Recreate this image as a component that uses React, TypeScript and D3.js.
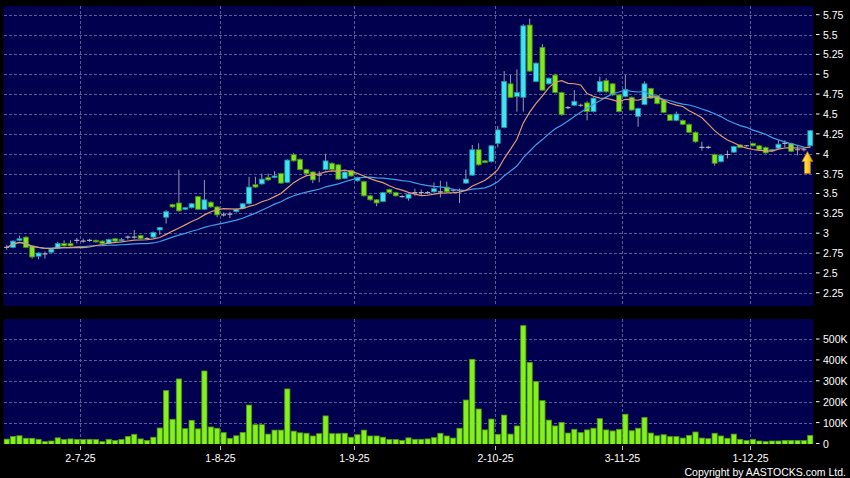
import React from "react";
import * as d3 from "d3";

// ---------- DATA ----------
const HOLIDAYS = ["2025-07-01", "2025-10-01", "2025-10-07", "2025-10-29"];
const FIRST_DAY = "2025-06-13";
const LAST_DAY = "2025-12-12";

function tradingDays(start: string, end: string): string[] {
  const out: string[] = [];
  const d = new Date(start + "T00:00:00Z");
  const e = new Date(end + "T00:00:00Z");
  while (d <= e) {
    const wd = d.getUTCDay();
    const s = d.toISOString().slice(0, 10);
    if (wd !== 0 && wd !== 6 && !HOLIDAYS.includes(s)) out.push(s);
    d.setUTCDate(d.getUTCDate() + 1);
  }
  return out;
}
const dates = tradingDays(FIRST_DAY, LAST_DAY);

const opens = [
  2.82, 2.82, 2.91, 2.95, 2.84, 2.71, 2.74, 2.76, 2.81, 2.87,
  2.87, 2.91, 2.9, 2.91, 2.91, 2.9, 2.87, 2.93, 2.91, 2.95,
  2.95, 2.97, 2.93, 2.95, 3.04, 3.2, 3.36, 3.38, 3.3, 3.32,
  3.46, 3.3, 3.39, 3.33, 3.23, 3.24, 3.27, 3.31, 3.37, 3.61,
  3.62, 3.7, 3.7, 3.75, 3.64, 3.99, 3.93, 3.8, 3.77, 3.73,
  3.8, 3.88, 3.86, 3.69, 3.79, 3.66, 3.65, 3.47, 3.42, 3.4,
  3.55, 3.51, 3.46, 3.44, 3.51, 3.51, 3.51, 3.52, 3.52, 3.58,
  3.54, 3.54, 3.63, 3.73, 4.05, 3.91, 3.9, 4.13, 4.33, 4.88,
  4.72, 4.71, 5.62, 4.91, 5.34, 4.88, 4.99, 4.77, 4.58, 4.61,
  4.61, 4.64, 4.53, 4.78, 4.92, 4.88, 4.74, 4.72, 4.71, 4.47,
  4.62, 4.82, 4.73, 4.67, 4.49, 4.42, 4.42, 4.37, 4.27, 4.08,
  4.08, 3.99, 3.9, 3.99, 4.02, 4.11, 4.1, 4.13, 4.1, 4.08,
  4.04, 4.07, 4.13, 4.13, 4.05, 4.05, 4.1,
];
const highs = [
  2.85, 2.91, 2.97, 2.96, 2.85, 2.76, 2.77, 2.81, 2.89, 2.91,
  2.91, 2.94, 2.93, 2.93, 2.92, 2.91, 2.93, 2.94, 2.94, 2.97,
  3.04, 2.98, 2.95, 3.02, 3.08, 3.29, 3.37, 3.8, 3.33, 3.38,
  3.47, 3.67, 3.4, 3.34, 3.26, 3.27, 3.31, 3.38, 3.71, 3.71,
  3.75, 3.75, 3.78, 3.76, 3.93, 4.01, 3.94, 3.81, 3.78, 3.78,
  4.0, 3.89, 3.87, 3.78, 3.8, 3.71, 3.66, 3.48, 3.43, 3.52,
  3.56, 3.52, 3.48, 3.5, 3.56, 3.55, 3.53, 3.64, 3.66, 3.65,
  3.56, 3.56, 3.8, 4.11, 4.13, 3.92, 4.11, 4.35, 5.04, 4.99,
  5.06, 5.63, 5.7, 5.15, 5.38, 4.96, 5.01, 4.78, 4.6, 4.8,
  4.63, 4.66, 4.71, 4.97, 4.95, 4.89, 4.75, 4.99, 4.72, 4.58,
  4.91, 4.83, 4.74, 4.68, 4.5, 4.53, 4.43, 4.38, 4.28, 4.15,
  4.1, 4.0, 3.99, 4.04, 4.1, 4.12, 4.11, 4.14, 4.11, 4.09,
  4.06, 4.17, 4.17, 4.14, 4.1, 4.07, 4.3,
];
const lows = [
  2.79, 2.81, 2.9, 2.81, 2.68, 2.67, 2.68, 2.75, 2.8, 2.83,
  2.83, 2.87, 2.88, 2.89, 2.88, 2.86, 2.86, 2.89, 2.9, 2.92,
  2.93, 2.92, 2.92, 2.94, 2.98, 3.12, 3.32, 3.27, 3.29, 3.31,
  3.29, 3.29, 3.32, 3.2, 3.21, 3.19, 3.26, 3.3, 3.36, 3.57,
  3.61, 3.66, 3.69, 3.62, 3.63, 3.9, 3.79, 3.74, 3.63, 3.64,
  3.79, 3.79, 3.67, 3.68, 3.71, 3.65, 3.46, 3.41, 3.34, 3.39,
  3.5, 3.46, 3.45, 3.41, 3.47, 3.48, 3.49, 3.51, 3.45, 3.51,
  3.52, 3.38, 3.62, 3.72, 3.85, 3.88, 3.89, 4.08, 4.32, 4.7,
  4.53, 4.53, 5.03, 4.9, 4.79, 4.87, 4.76, 4.48, 4.56, 4.6,
  4.59, 4.42, 4.52, 4.77, 4.77, 4.73, 4.52, 4.71, 4.54, 4.34,
  4.61, 4.69, 4.62, 4.51, 4.41, 4.41, 4.36, 4.26, 4.14, 4.04,
  4.06, 3.85, 3.89, 3.94, 4.01, 4.07, 4.09, 4.09, 4.04, 4.0,
  4.03, 4.06, 4.08, 4.02, 3.98, 4.03, 4.09,
];
const closes = [
  2.82, 2.9, 2.93, 2.82, 2.7, 2.75, 2.74, 2.8, 2.87, 2.84,
  2.84, 2.91, 2.9, 2.91, 2.89, 2.87, 2.92, 2.9, 2.92, 2.95,
  2.95, 2.93, 2.93, 3.01, 3.07, 3.27, 3.33, 3.28, 3.32, 3.37,
  3.3, 3.42, 3.33, 3.23, 3.23, 3.24, 3.3, 3.37, 3.58, 3.58,
  3.68, 3.67, 3.72, 3.63, 3.92, 3.91, 3.8, 3.75, 3.67, 3.73,
  3.91, 3.8, 3.68, 3.77, 3.72, 3.7, 3.47, 3.42, 3.38, 3.51,
  3.51, 3.47, 3.46, 3.49, 3.51, 3.51, 3.51, 3.56, 3.52, 3.52,
  3.54, 3.54, 3.68, 4.05, 3.86, 3.89, 4.1, 4.3, 4.91, 4.71,
  4.77, 5.61, 5.04, 5.14, 4.8, 4.95, 4.77, 4.49, 4.58, 4.66,
  4.61, 4.53, 4.7, 4.91, 4.78, 4.74, 4.53, 4.81, 4.55, 4.57,
  4.88, 4.7, 4.63, 4.52, 4.42, 4.5, 4.37, 4.27, 4.15, 4.08,
  4.08, 3.88, 3.98, 3.99, 4.09, 4.08, 4.1, 4.1, 4.05, 4.01,
  4.05, 4.12, 4.13, 4.03, 4.05, 4.05, 4.29,
];
// volume in thousands of shares
const volumes = [
  21, 34, 37, 25, 25, 20, 9, 12, 27, 19,
  22, 19, 19, 20, 19, 9, 20, 14, 19, 34,
  44, 22, 15, 30, 74, 253, 116, 309, 71, 111,
  70, 347, 79, 73, 52, 25, 37, 53, 184, 90,
  90, 45, 64, 64, 261, 59, 51, 49, 36, 47,
  132, 47, 47, 49, 30, 42, 64, 36, 36, 30,
  19, 19, 15, 27, 20, 20, 22, 28, 49, 36,
  26, 73, 208, 403, 165, 65, 117, 44, 136, 45,
  84, 564, 388, 296, 205, 112, 84, 101, 50, 68,
  52, 65, 73, 119, 65, 60, 68, 140, 61, 73,
  124, 50, 37, 42, 33, 33, 26, 39, 55, 26,
  23, 49, 36, 25, 45, 20, 14, 20, 12, 9,
  12, 12, 15, 15, 14, 14, 39,
];

const dateTickDays = ["2025-07-02", "2025-08-01", "2025-09-01", "2025-10-02", "2025-11-03", "2025-12-01"];
const dateTickLabels = ["2-7-25", "1-8-25", "1-9-25", "2-10-25", "3-11-25", "1-12-25"];
const priceTicks = [2.25, 2.5, 2.75, 3, 3.25, 3.5, 3.75, 4, 4.25, 4.5, 4.75, 5, 5.25, 5.5, 5.75];
const volumeTicks = [0, 100, 200, 300, 400, 500];
const volumeTickLabels = ["0", "100K", "200K", "300K", "400K", "500K"];
const MA_SHORT = 10;
const MA_LONG = 20;
const COPYRIGHT = "Copyright by AASTOCKS.com Ltd.";

// ---------- LAYOUT / STYLE ----------
const W = 850;
const H = 478;
const PL = 3.5;
const PR = 813.5;
const PT = 6;
const PB = 306;
const VT = 319;
const VB = 444;
const VZERO = 443.5;
const BG = "#00004f";
const GRID = "#5a5a96";
const FONT = "'Liberation Sans', Arial, sans-serif";

function movingAverage(values: number[], period: number): number[] {
  return values.map((_, i) => {
    const s = Math.max(0, i - period + 1);
    return d3.mean(values.slice(s, i + 1)) as number;
  });
}

export default function App() {
  const x = d3.scaleBand<string>().domain(dates).range([PL, PR]).padding(0);
  const step = x.step();
  const cx = (i: number) => (x(dates[i]) as number) + step / 2;
  const y = d3.scaleLinear().domain([2.083, 5.8595]).range([PB, PT]);
  const yv = d3.scaleLinear().domain([0, 595.7]).range([VZERO, VT]);

  const maS = movingAverage(closes, MA_SHORT);
  const maL = movingAverage(closes, MA_LONG);
  const line = d3
    .line<number>()
    .x((_, i) => cx(i))
    .y((d) => y(d));

  const bodyW = 5;
  const volW = 5.2;
  const last = dates.length - 1;
  const arrowX = (x(dates[last]) as number) + 0.3;
  const arrowTip = y(lows[last]) + 5;
  const arrowPath = [
    [arrowX, arrowTip],
    [arrowX + 5.5, arrowTip + 10],
    [arrowX + 3, arrowTip + 10],
    [arrowX + 3, arrowTip + 22],
    [arrowX - 3, arrowTip + 22],
    [arrowX - 3, arrowTip + 10],
    [arrowX - 5.5, arrowTip + 10],
  ]
    .map((p, i) => (i === 0 ? "M" : "L") + p[0] + "," + p[1])
    .join(" ") + " Z";

  return (
    <div style={{ position: "absolute", left: 0, top: 0 }}>
      <svg width={W} height={H} style={{ display: "block", background: "#000" }} fontFamily={FONT}>
        <defs>
          <clipPath id="pclip">
            <rect x={PL} y={PT} width={PR - PL} height={PB - PT} />
          </clipPath>
          <clipPath id="vclip">
            <rect x={PL} y={VT} width={PR - PL} height={VB - VT} />
          </clipPath>
          <linearGradient id="arrowGrad" x1="0" x2="1" y1="0" y2="0">
            <stop offset="0" stopColor="#ffe97a" />
            <stop offset="0.5" stopColor="#ffd030" />
            <stop offset="1" stopColor="#e0a000" />
          </linearGradient>
        </defs>
        <rect x={0} y={0} width={W} height={H} fill="#000" />
        {/* panels */}
        <rect x={PL} y={PT} width={PR - PL} height={PB - PT} fill={BG} />
        <rect x={PL} y={VT} width={PR - PL} height={VB - VT} fill={BG} />

        {/* price grid */}
        <g stroke={GRID} strokeWidth={1} strokeDasharray="3,2" shapeRendering="crispEdges">
          {priceTicks.map((t) => (
            <line key={"pg" + t} x1={PL} x2={PR} y1={Math.round(y(t)) + 0.5} y2={Math.round(y(t)) + 0.5} />
          ))}
          {volumeTicks.slice(1).map((t) => (
            <line key={"vg" + t} x1={PL} x2={PR} y1={Math.round(yv(t)) + 0.5} y2={Math.round(yv(t)) + 0.5} />
          ))}
          {dateTickDays.map((d) => {
            const xx = Math.round(x(d) as number) + 0.5;
            return (
              <g key={"dg" + d}>
                <line x1={xx} x2={xx} y1={PT} y2={PB} />
                <line x1={xx} x2={xx} y1={VT} y2={VB} />
              </g>
            );
          })}
        </g>

        {/* candles */}
        <g clipPath="url(#pclip)">
          {dates.map((d, i) => {
            const o = opens[i];
            const c = closes[i];
            const up = c > o;
            const flat = c === o;
            const xc = cx(i);
            const top = y(Math.max(o, c));
            const bot = y(Math.min(o, c));
            const fill = flat ? "#b0b0b8" : up ? "#3fe3f2" : "#84e523";
            const stroke = flat ? "#9a9aa6" : up ? "#1b8fa0" : "#3f8a12";
            return (
              <g key={"c" + d}>
                <line x1={xc} x2={xc} y1={y(highs[i])} y2={y(lows[i])} stroke="#9a9aac" strokeWidth={1} />
                {flat ? (
                  <line x1={xc - bodyW / 2} x2={xc + bodyW / 2} y1={top} y2={top} stroke={fill} strokeWidth={1.2} />
                ) : (
                  <rect
                    x={xc - bodyW / 2}
                    y={top}
                    width={bodyW}
                    height={Math.max(1.2, bot - top)}
                    fill={fill}
                    stroke={stroke}
                    strokeWidth={0.8}
                  />
                )}
              </g>
            );
          })}
          <path d={line(maL) || ""} fill="none" stroke="#3f9fe6" strokeWidth={1.2} />
          <path d={line(maS) || ""} fill="none" stroke="#e39a72" strokeWidth={1.2} />
          <path d={arrowPath} fill="url(#arrowGrad)" stroke="#b07a10" strokeWidth={0.8} />
        </g>

        {/* volume */}
        <g clipPath="url(#vclip)">
          {dates.map((d, i) => (
            <rect
              key={"v" + d}
              x={cx(i) - volW / 2}
              y={yv(volumes[i])}
              width={volW}
              height={VZERO - yv(volumes[i]) + 1}
              fill="#86f01e"
              stroke="#4a9a12"
              strokeWidth={0.8}
            />
          ))}
        </g>

        {/* right axes */}
        <g fill="#ffffff" fontSize={10.5}>
          {priceTicks.map((t) => (
            <g key={"pt" + t}>
              <line x1={816} x2={819.5} y1={y(t)} y2={y(t)} stroke="#ffffff" strokeWidth={1} />
              <text x={823} y={y(t)} dominantBaseline="central">
                {String(t)}
              </text>
            </g>
          ))}
          {volumeTicks.map((t, k) => (
            <g key={"vt" + t}>
              <line x1={816} x2={819.5} y1={yv(t)} y2={yv(t)} stroke="#ffffff" strokeWidth={1} />
              <text x={823} y={yv(t)} dominantBaseline="central">
                {volumeTickLabels[k]}
              </text>
            </g>
          ))}
        </g>

        {/* bottom axis */}
        <g fill="#ffffff" fontSize={10.5}>
          {dateTickDays.map((d, k) => {
            const xx = Math.round(x(d) as number) + 0.5;
            return (
              <g key={"dt" + d}>
                <line x1={xx} x2={xx} y1={VB + 2} y2={VB + 6} stroke="#c0c0c0" strokeWidth={1} />
                <text x={xx} y={462} textAnchor="middle">
                  {dateTickLabels[k]}
                </text>
              </g>
            );
          })}
          <text x={846} y={476} textAnchor="end" fontSize={10.5}>
            {COPYRIGHT}
          </text>
        </g>
      </svg>
    </div>
  );
}
